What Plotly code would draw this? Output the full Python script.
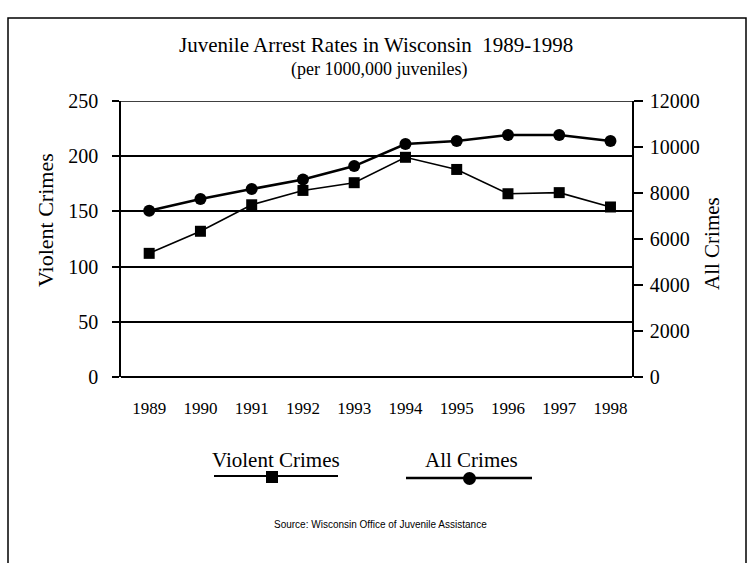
import plotly.graph_objects as go

years = [1989, 1990, 1991, 1992, 1993, 1994, 1995, 1996, 1997, 1998]
violent_crimes = [112, 132, 156, 169, 176, 199, 188, 166, 167, 154]
all_crimes = [7230, 7740, 8170, 8590, 9170, 10130, 10260, 10520, 10520, 10260]

left_ticks = [0, 50, 100, 150, 200, 250]
right_ticks = [0, 2000, 4000, 6000, 8000, 10000, 12000]

SERIF = "Liberation Serif"
W, H = 751, 563
L, R, T, B = 121, 632, 101, 377


def px(x):
    return (x - L) / (R - L)


def py(y):
    return (B - y) / (B - T)


fig = go.Figure()
fig.add_trace(go.Scatter(x=years, y=violent_crimes, name="Violent Crimes", mode="lines+markers",
                         line=dict(color="black", width=1.6),
                         marker=dict(symbol="square", size=11, color="black")))
fig.add_trace(go.Scatter(x=years, y=all_crimes, name="All Crimes", mode="lines+markers", yaxis="y2",
                         line=dict(color="black", width=2.6),
                         marker=dict(symbol="circle", size=12, color="black")))

shapes = [
    # page frame
    dict(type="rect", xref="paper", yref="paper", x0=px(8), x1=px(746), y0=py(18), y1=py(575),
         line=dict(color="black", width=1.5)),
    # top grid line at 250 (plotly skips it at the range edge)
    dict(type="line", xref="paper", yref="y", x0=0, x1=1, y0=left_ticks[-1], y1=left_ticks[-1],
         line=dict(color="black", width=1.5)),
    # legend keys
    dict(type="line", xref="paper", yref="paper", x0=px(214), x1=px(338), y0=py(476), y1=py(476),
         line=dict(color="black", width=2)),
    dict(type="rect", xref="paper", yref="paper", x0=px(266), x1=px(278), y0=py(471), y1=py(483),
         fillcolor="black", line=dict(color="black", width=0)),
    dict(type="line", xref="paper", yref="paper", x0=px(406), x1=px(532), y0=py(478), y1=py(478),
         line=dict(color="black", width=2.5)),
    dict(type="circle", xref="paper", yref="paper", x0=px(463), x1=px(476), y0=py(472), y1=py(485),
         fillcolor="black", line=dict(color="black", width=0)),
]

annotations = [
    dict(text="Juvenile Arrest Rates in Wisconsin  1989-1998", x=px(376), y=py(45), xref="paper", yref="paper",
         showarrow=False, font=dict(family=SERIF, size=21, color="black"), xanchor="center", yanchor="middle"),
    dict(text="(per 1000,000 juveniles)", x=px(379), y=py(70), xref="paper", yref="paper",
         showarrow=False, font=dict(family=SERIF, size=18, color="black"), xanchor="center", yanchor="middle"),
    dict(text="Violent Crimes", x=px(45), y=py(220), xref="paper", yref="paper", textangle=-90,
         showarrow=False, font=dict(family=SERIF, size=22, color="black"), xanchor="center", yanchor="middle"),
    dict(text="All Crimes", x=px(712), y=py(244), xref="paper", yref="paper", textangle=-90,
         showarrow=False, font=dict(family=SERIF, size=21, color="black"), xanchor="center", yanchor="middle"),
    dict(text="Violent Crimes", x=px(276), y=py(460), xref="paper", yref="paper",
         showarrow=False, font=dict(family=SERIF, size=21, color="black"), xanchor="center", yanchor="middle"),
    dict(text="All Crimes", x=px(471), y=py(460), xref="paper", yref="paper",
         showarrow=False, font=dict(family=SERIF, size=21, color="black"), xanchor="center", yanchor="middle"),
    dict(text="Source: Wisconsin Office of Juvenile Assistance", x=px(380), y=py(524), xref="paper", yref="paper",
         showarrow=False, font=dict(family="Liberation Sans", size=10, color="black"),
         xanchor="center", yanchor="middle"),
]

fig.update_layout(
    width=W, height=H,
    margin=dict(l=L, r=W - R, t=T, b=H - B),
    paper_bgcolor="white", plot_bgcolor="white",
    showlegend=False,
    font=dict(family=SERIF, color="black"),
    xaxis=dict(range=[1988.45, 1998.42], tickmode="array", tickvals=years, ticktext=[str(y) for y in years],
               showgrid=False, zeroline=False, showline=False, ticks="", ticklabelstandoff=19,
               tickfont=dict(family=SERIF, size=17, color="black")),
    yaxis=dict(range=[0, 250], tickvals=left_ticks, showgrid=True, gridcolor="black", gridwidth=1.5,
               zeroline=True, zerolinecolor="black", zerolinewidth=1.5,
               showline=True, linecolor="black", linewidth=1.5, ticks="outside", ticklen=7,
               tickcolor="black", tickwidth=1.5, ticklabelstandoff=10,
               tickfont=dict(family=SERIF, size=20, color="black")),
    yaxis2=dict(range=[0, 12000], tickvals=right_ticks, overlaying="y", side="right", showgrid=False,
                zeroline=False, showline=True, linecolor="black", linewidth=1.5, ticks="outside",
                ticklen=9, tickcolor="black", tickwidth=1.5, tickformat="d", ticklabelstandoff=3,
                tickfont=dict(family=SERIF, size=20, color="black")),
    shapes=shapes,
    annotations=annotations,
)

fig.write_html("out.html", config={"displayModeBar": False},
               post_script="document.body.style.margin = '0';")
